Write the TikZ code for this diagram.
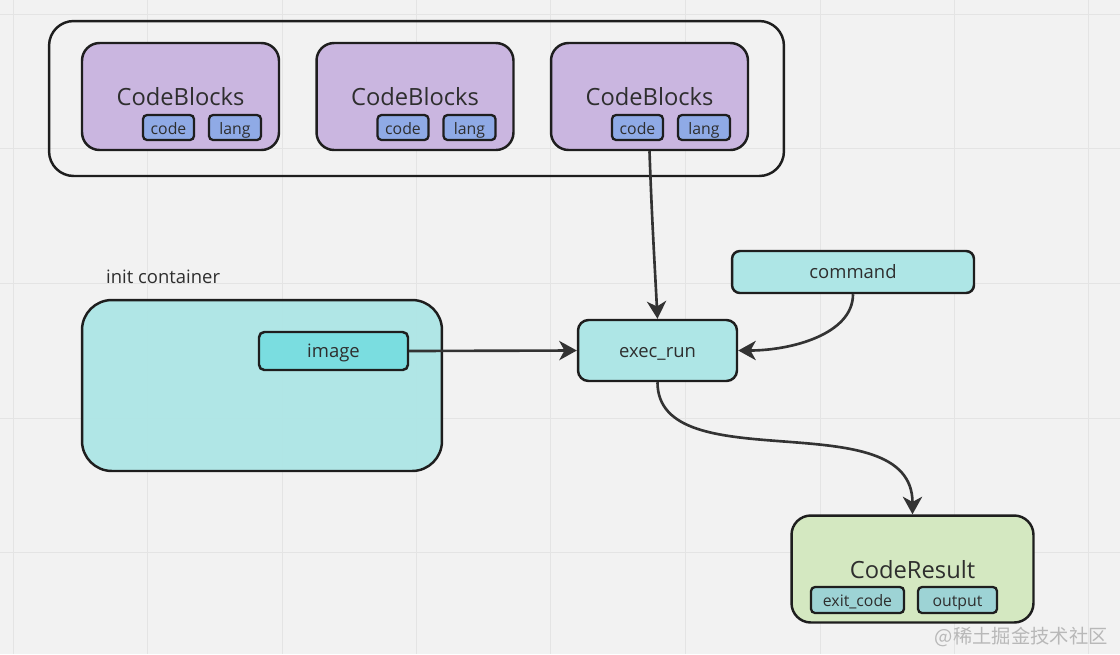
\documentclass[tikz,border=0pt]{standalone}
\usepackage{fontspec}
\setmainfont{Open Sans}
\newfontfamily\cjk{Noto Sans CJK SC}
\usetikzlibrary{arrows.meta}

\definecolor{bgcol}{HTML}{F2F2F2}
\definecolor{gridcol}{HTML}{E4E4E4}
\definecolor{linecol}{HTML}{1E1E1E}
\definecolor{textcol}{HTML}{2E2E2E}
\definecolor{purplecol}{HTML}{CAB6E0}
\definecolor{bluecol}{HTML}{8FAAE6}
\definecolor{cyancol}{HTML}{AEE6E6}
\definecolor{imagecol}{HTML}{7ADDE0}
\definecolor{greencol}{HTML}{D4E8C1}
\definecolor{tealcol}{HTML}{9DD3D5}
\definecolor{arrowcol}{HTML}{333333}

\tikzset{
  box/.style={draw=linecol, line width=1.4pt, text=textcol, inner sep=0pt,
    text height=0.78em, text depth=0em},
  blockbox/.style={box, fill=purplecol, rounded corners=10pt,
    minimum width=3.94cm, minimum height=2.14cm, font=\fontsize{13.5}{16}\selectfont},
  fieldbox/.style={box, line width=1.3pt, rounded corners=2.3pt, minimum height=0.5cm,
    font=\fontsize{9}{11}\selectfont},
  arr/.style={draw=arrowcol, line width=1.5pt,
    -{Stealth[length=10pt, width=11pt, inset=3pt]}},
}

\begin{document}
\begin{tikzpicture}[x=0.02cm, y=-0.02cm]

\useasboundingbox (0,0) rectangle (1120,654);
\fill[bgcol] (0,0) rectangle (1120,654);
\foreach \gx in {13,147,282,416,550,685,820,954,1088}
  \draw[gridcol, line width=0.5pt] (\gx,0)--(\gx,654);
\foreach \gy in {14,148,283,418,552}
  \draw[gridcol, line width=0.5pt] (0,\gy)--(1120,\gy);

% code blocks
\node[draw=linecol, line width=1.4pt, rounded corners=14pt,
  minimum width=14.7cm, minimum height=3.1cm] (blocks) at (416.5,98.5) {};
\foreach \i/\cx in {1/180.5, 2/415, 3/649.5} {
  \node[blockbox] (cb\i) at (\cx,96.5) {};
  \node[text=textcol, font=\fontsize{13.5}{16}\selectfont] (cbname\i) at (\cx,96.5) {CodeBlocks};
  \node[fieldbox, fill=bluecol, minimum width=1.02cm] (code\i) at (\cx-12,127.5) {code};
  \node[fieldbox, fill=bluecol, minimum width=1.04cm] (lang\i) at (\cx+54.5,127.5) {lang};
}

% init container
\node[anchor=west, text=textcol, font=\fontsize{10.5}{13}\selectfont] (initname) at (100,277) {init container};
\node[box, fill=cyancol, fill opacity=0.96, rounded corners=17pt,
  minimum width=7.2cm, minimum height=3.42cm] (init) at (262,385.5) {};
\node[box, fill=imagecol, rounded corners=3pt, minimum width=2.98cm, minimum height=0.76cm,
  font=\fontsize{10.5}{13}\selectfont] (image) at (333.5,351) {image};

% run
\node[box, fill=cyancol, rounded corners=6pt, minimum width=3.18cm, minimum height=1.22cm,
  font=\fontsize{10.5}{13}\selectfont] (exec) at (657.5,350.5) {exec\_run};
\node[box, fill=cyancol, rounded corners=4.5pt, minimum width=4.84cm, minimum height=0.84cm,
  font=\fontsize{10.5}{13}\selectfont] (command) at (853,272) {command};

% result
\node[box, fill=greencol, rounded corners=11pt, minimum width=4.84cm, minimum height=2.14cm] (result) at (912.5,569) {};
\node[text=textcol, font=\fontsize{13.5}{16}\selectfont] (resname) at (912.5,570) {CodeResult};
\node[fieldbox, fill=tealcol, minimum width=1.86cm, minimum height=0.52cm] (exitcode) at (857.5,600) {exit\_code};
\node[fieldbox, fill=tealcol, minimum width=1.58cm, minimum height=0.52cm] (output) at (957.5,600) {output};

\draw[arr] (cb3.south) to[out=-88, in=93] (exec.north);
\draw[arr] (image.east) -- (exec.west);
\draw[arr] (command.south) .. controls +(0,40) and +(53,0) .. (exec.east);
\draw[arr] (exec.south) .. controls +(0,100) and +(0,-114) .. (result.north);

\node[anchor=east, text=black!28, font=\cjk\fontsize{11}{13}\selectfont] (mark) at (1114,637) {@稀土掘金技术社区};

\end{tikzpicture}
\end{document}
